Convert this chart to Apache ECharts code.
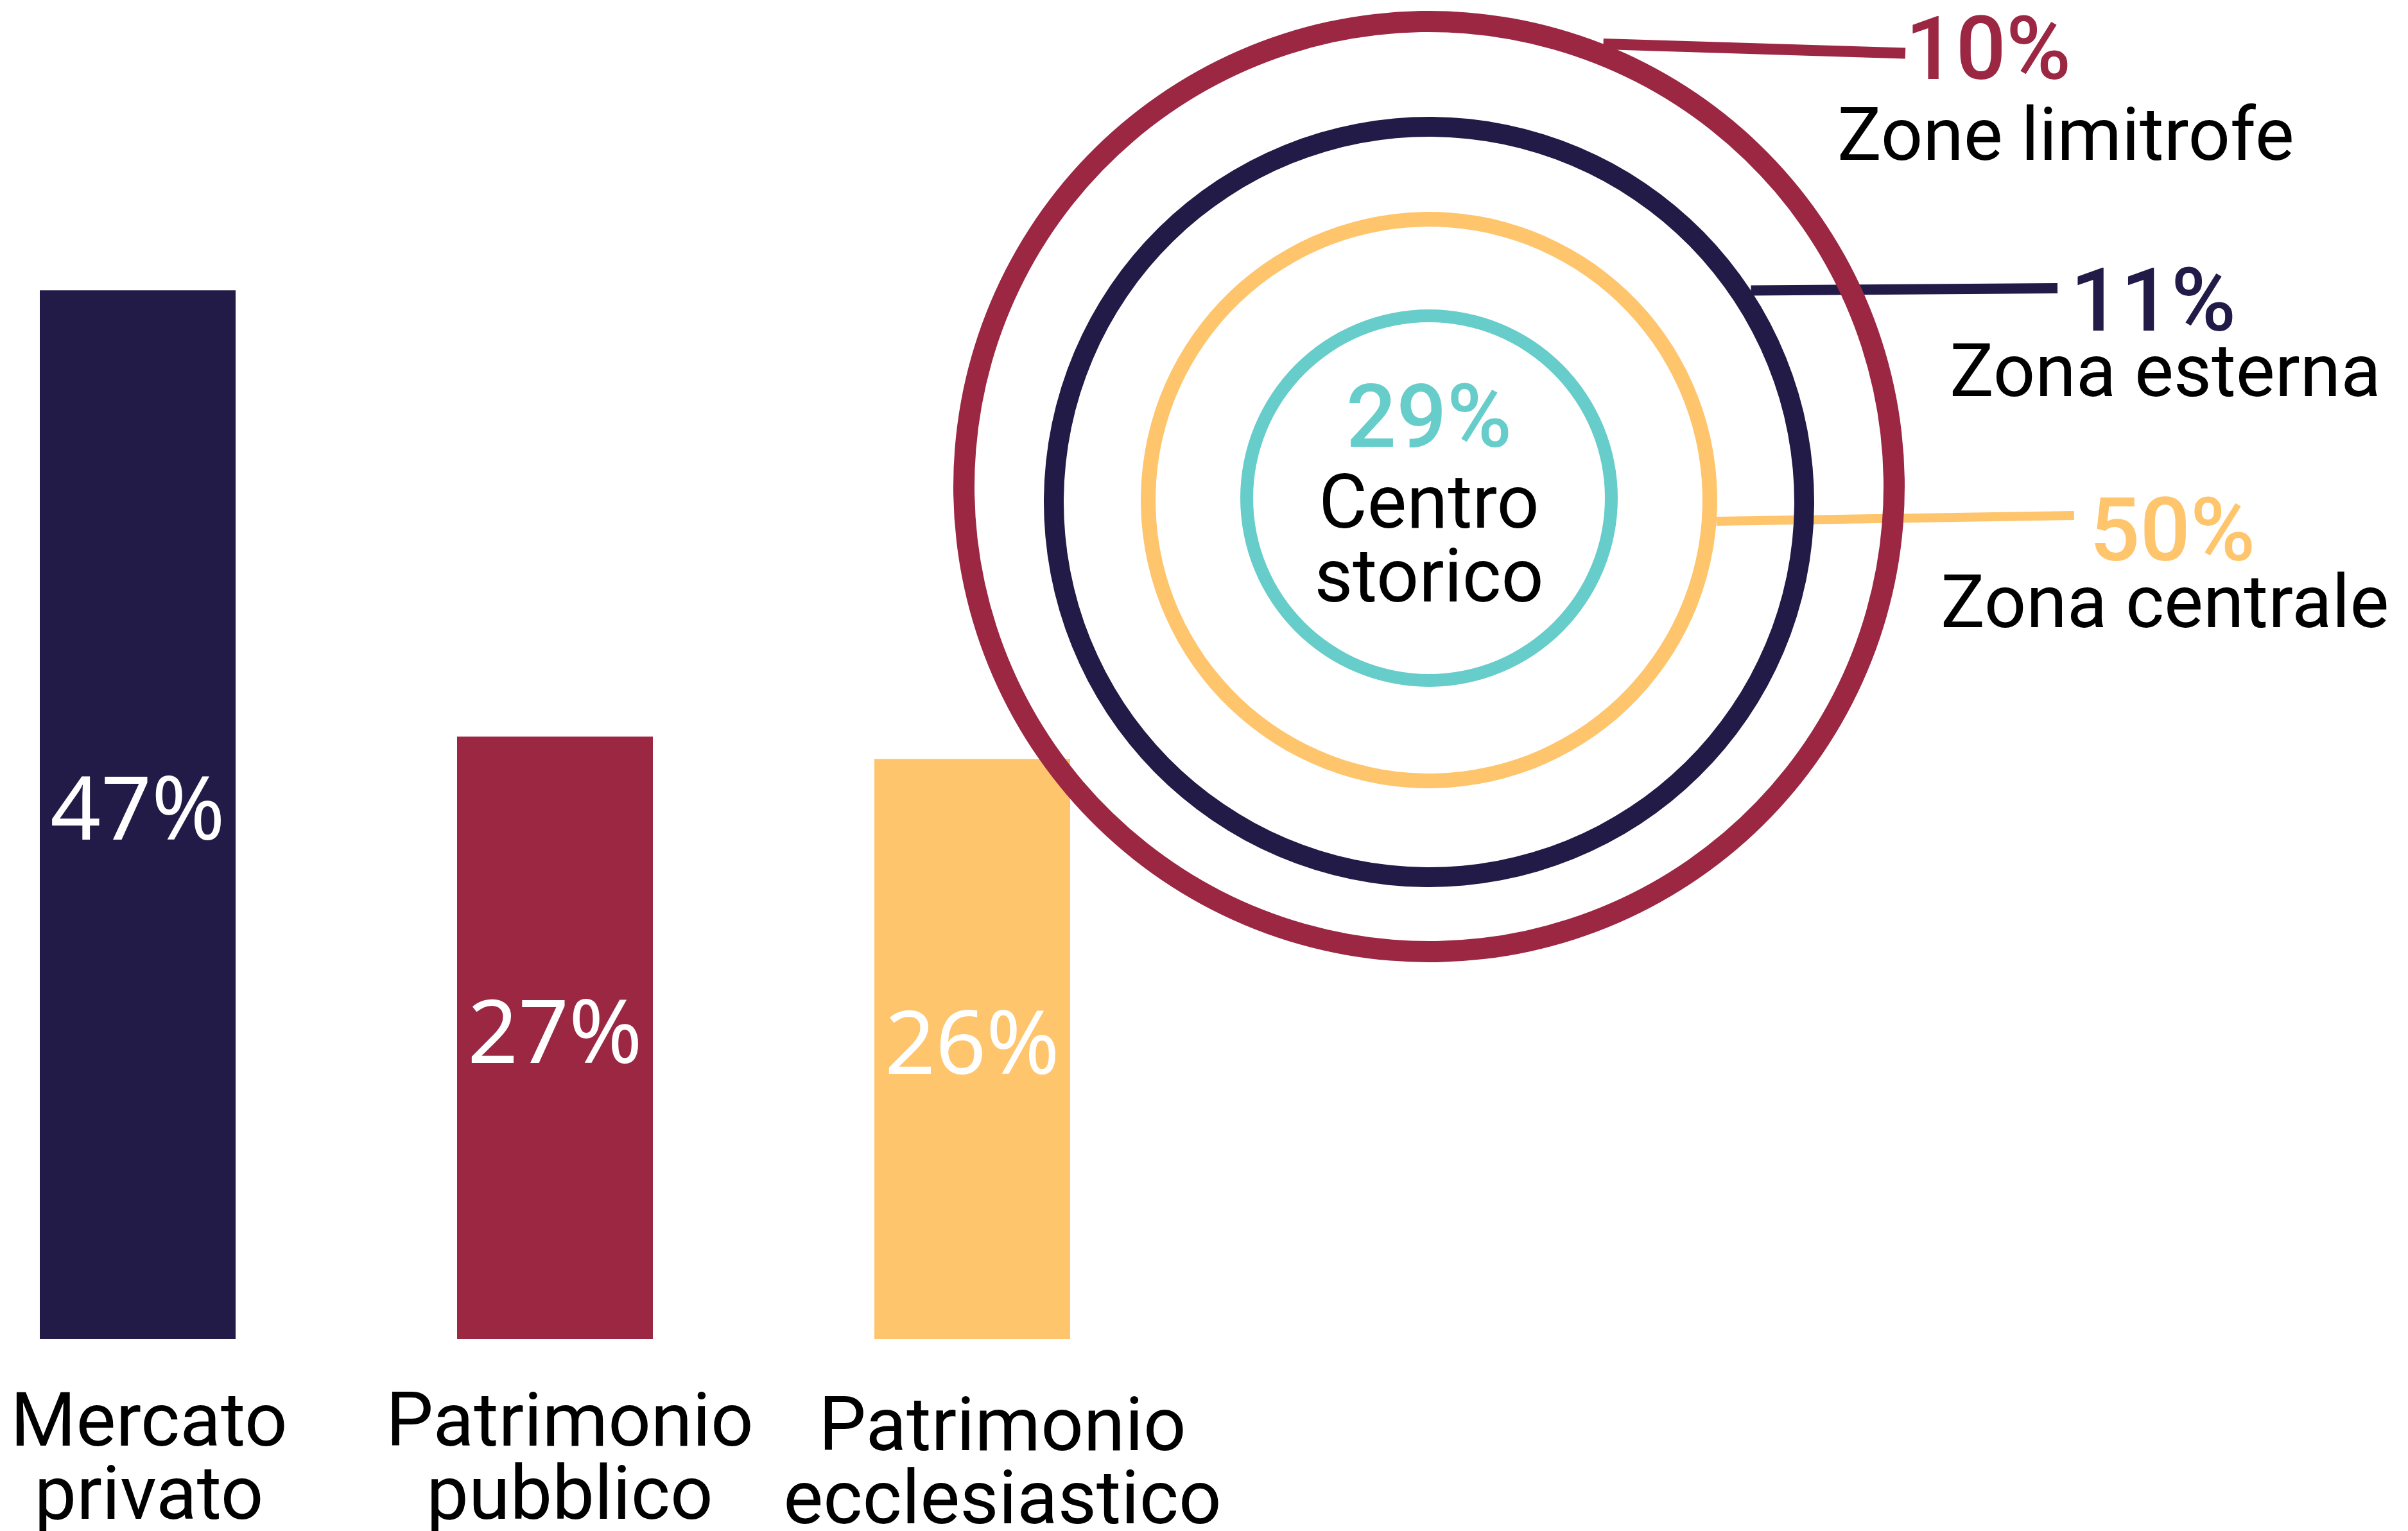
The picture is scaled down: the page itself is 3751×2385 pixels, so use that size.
<!DOCTYPE html>
<html>
<head>
<meta charset="utf-8">
<script src="https://cdn.jsdelivr.net/npm/echarts@6/dist/echarts.min.js"></script>
<style>
html, body { margin: 0; padding: 0; background: #fff; }
#main { width: 3751px; height: 2385px; }
</style>
</head>
<body>
<div id="main"></div>
<script>
// bar chart data
var categories = ['Mercato\nprivato', 'Patrimonio\npubblico', 'Patrimonio\necclesiastico'];
var shares = [47, 27, 26];

// concentric rings, outer to inner
var zoneNames = ['Zone limitrofe', 'Zona esterna', 'Zona centrale', 'Centro\nstorico'];
var zoneShares = [10, 11, 50, 29];

var barColors = ['#221a47', '#9c2743', '#fec56c'];
var zoneColors = ['#9c2743', '#221a47', '#fec56c', '#67cdca'];
var catPadding = [[0, 0, 0, 35], [0, 0, 0, 46], [7, 0, 0, 94]];

// ring layout
var cx = 2226;
var ringCy = [758, 782, 779, 776];
var ringR = [[708, 741], [569, 600], [426, 449], [274, 294]];
var ringAngle = [248.5, 213.3, 175.8, 90];
var lineWidth = [17, 16, 14];
var lineEnd = [[2968, 83], [3205, 449], [3231, 803]];
var labelPos = [[2862, 16], [3037, 432], [3023, 788]];
var pctPad = [106, 188, 232];
var pctLH = [144, 96, 100];

var chart = echarts.init(document.getElementById('main'));

var series = [{
    type: 'bar',
    barWidth: 305,
    clip: false,
    silent: true,
    data: shares.map(function (v, i) {
        return { value: v, itemStyle: { color: barColors[i] } };
    }),
    label: {
        show: true,
        position: 'inside',
        formatter: '{c}%',
        color: '#fff',
        fontSize: 138,
        fontFamily: 'Noto Sans'
    }
}];

zoneShares.forEach(function (v, i) {
    var s = {
        type: 'pie',
        center: [cx, ringCy[i]],
        radius: ringR[i],
        startAngle: ringAngle[i],
        silent: true,
        avoidLabelOverlap: false,
        itemStyle: { color: zoneColors[i], borderWidth: 0 },
        data: [{ name: zoneNames[i], value: v }]
    };
    if (i < 3) {
        s.label = {
            show: true,
            position: 'outside',
            formatter: '{p|{c}%}\n{n|{b}}',
            rich: {
                p: {
                    fontSize: 138,
                    fontWeight: 500,
                    fontFamily: 'Roboto',
                    color: zoneColors[i],
                    lineHeight: pctLH[i],
                    padding: [0, 0, 0, pctPad[i]]
                },
                n: {
                    fontSize: 115,
                    fontFamily: 'Roboto',
                    color: '#000',
                    lineHeight: 120
                }
            }
        };
        s.labelLine = {
            show: true,
            length: 0,
            length2: 10,
            lineStyle: { width: lineWidth[i], color: zoneColors[i] }
        };
        s.labelLayout = function (p) {
            var p0 = p.labelLinePoints ? p.labelLinePoints[0] : lineEnd[i];
            return {
                x: labelPos[i][0],
                y: labelPos[i][1],
                align: 'left',
                verticalAlign: 'top',
                labelLinePoints: [p0, p0, lineEnd[i]]
            };
        };
    } else {
        s.label = {
            show: true,
            position: 'center',
            formatter: '{p|{c}%}\n{n|{b}}',
            rich: {
                p: {
                    fontSize: 138,
                    fontWeight: 500,
                    fontFamily: 'Roboto',
                    color: zoneColors[i],
                    lineHeight: 149
                },
                n: {
                    fontSize: 116,
                    fontFamily: 'Roboto',
                    color: '#000',
                    lineHeight: 115
                }
            }
        };
        s.labelLine = { show: false };
        s.labelLayout = { dy: 0 };
    }
    series.push(s);
});

chart.setOption({
    animation: false,
    backgroundColor: '#fff',
    textStyle: { fontFamily: 'Roboto' },
    grid: {
        left: 214.5,
        width: 1300,
        top: 348,
        bottom: 299,
        containLabel: false,
        outerBoundsMode: 'none'
    },
    xAxis: {
        type: 'category',
        data: categories.map(function (c, i) {
            return { value: c, textStyle: { padding: catPadding[i] } };
        }),
        boundaryGap: false,
        axisLine: { show: false },
        axisTick: { show: false },
        splitLine: { show: false },
        axisLabel: {
            color: '#000',
            fontSize: 117,
            lineHeight: 114,
            fontFamily: 'Roboto',
            margin: 80,
            interval: 0
        }
    },
    yAxis: {
        type: 'value',
        min: 0,
        max: 50,
        show: false
    },
    series: series
});
</script>
</body>
</html>
